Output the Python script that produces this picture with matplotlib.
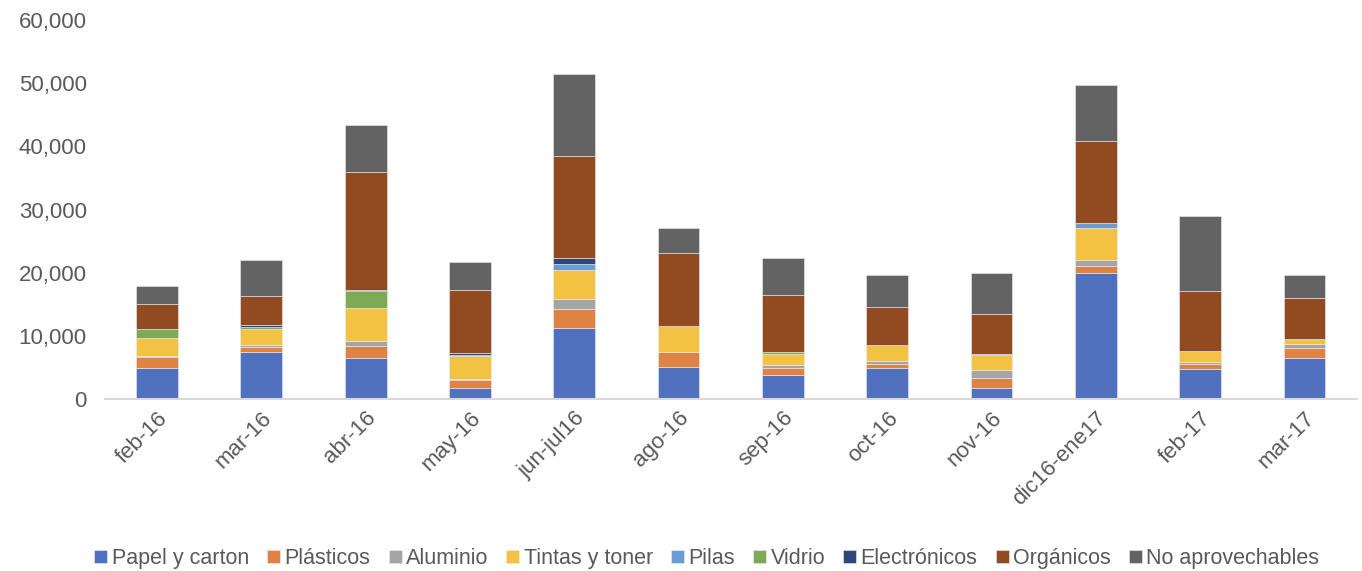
import matplotlib.pyplot as plt
import numpy as np
from matplotlib.ticker import FuncFormatter

plt.rcParams['font.family'] = ['Liberation Sans', 'DejaVu Sans']

meses = ['feb-16', 'mar-16', 'abr-16', 'may-16', 'jun-jul16', 'ago-16',
         'sep-16', 'oct-16', 'nov-16', 'dic16-ene17', 'feb-17', 'mar-17']

papel = [4950, 7450, 6550, 1800, 11300, 5100, 3750, 5000, 1800, 19900, 4750, 6550]
plasticos = [1650, 800, 1900, 1250, 2950, 2350, 1200, 500, 1600, 1200, 750, 1600]
aluminio = [250, 270, 750, 200, 1600, 0, 380, 500, 1200, 850, 350, 500]
tintas = [2800, 2500, 5250, 3500, 4600, 4050, 1800, 2500, 2400, 5150, 1750, 850]
pilas = [100, 100, 0, 200, 1000, 0, 0, 0, 200, 850, 0, 0]
vidrio = [1400, 300, 2600, 50, 0, 0, 300, 0, 0, 0, 0, 0]
electronicos = [0, 300, 200, 250, 900, 0, 0, 0, 0, 0, 0, 0]
organicos = [3900, 4600, 18700, 10000, 16100, 11700, 9060, 6100, 6200, 12900, 9450, 6550]
no_aprov = [2850, 5700, 7400, 4500, 13000, 3850, 5800, 5000, 6500, 8800, 12000, 3550]

series = [
    ('Papel y carton', papel, '#4F71BE'),
    ('Plásticos', plasticos, '#DE8344'),
    ('Aluminio', aluminio, '#A5A5A5'),
    ('Tintas y toner', tintas, '#F4C243'),
    ('Pilas', pilas, '#6A9BD3'),
    ('Vidrio', vidrio, '#7DAA55'),
    ('Electrónicos', electronicos, '#2D4778'),
    ('Orgánicos', organicos, '#924B20'),
    ('No aprovechables', no_aprov, '#636363'),
]

fig = plt.figure(figsize=(13.62, 5.71), dpi=100)
ax = fig.add_axes([0.077, 0.301, 0.919, 0.664])

x = np.arange(len(meses))
bottom = np.zeros(len(meses))
for name, vals, col in series:
    ax.bar(x, vals, 0.4, bottom=bottom, color=col, label=name,
           edgecolor='#e8eef8', linewidth=0.4)
    bottom += np.array(vals)

ax.set_xlim(-0.5, len(meses) - 0.5)
ax.set_ylim(0, 60000)
ax.set_yticks(np.arange(0, 60001, 10000))
ax.yaxis.set_major_formatter(FuncFormatter(lambda v, p: f'{int(v):,}'))

for s in ['top', 'right', 'left']:
    ax.spines[s].set_visible(False)
ax.spines['bottom'].set_color('#d9d9d9')
ax.spines['bottom'].set_linewidth(1.5)

ax.tick_params(axis='both', length=0, labelsize=16, colors='#595959')
ax.tick_params(axis='y', pad=13)
ax.tick_params(axis='x', pad=6)
ax.set_xticks(x)
ax.set_xticklabels(meses, rotation=45, ha='right', rotation_mode='anchor')

fig.legend(loc='center', bbox_to_anchor=(0.519, 0.022), ncol=9, frameon=False,
           fontsize=15.5, handlelength=0.6, handleheight=0.6, handletextpad=0.2,
           columnspacing=0.85, labelcolor='#595959')

fig.savefig('out.png', dpi=100)
